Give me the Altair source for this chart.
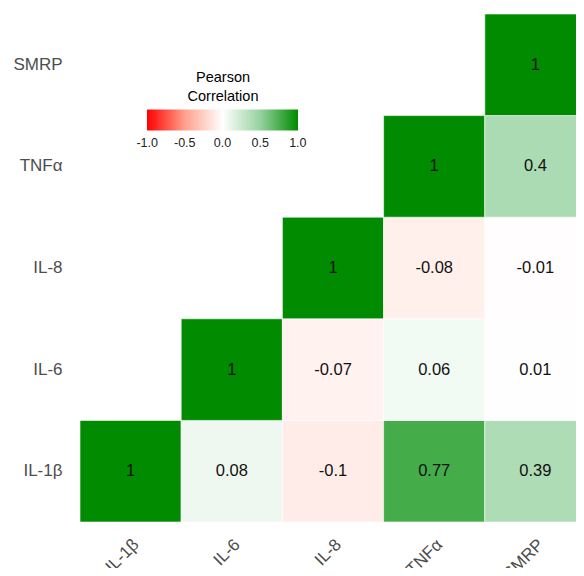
import altair as alt
import pandas as pd

variables = ["IL-1β", "IL-6", "IL-8", "TNFα", "SMRP"]

# upper-triangle cells (column variable, row variable, Pearson r)
cell_cols = ["IL-1β", "IL-6", "IL-8", "TNFα", "SMRP",
             "IL-6", "IL-8", "TNFα", "SMRP",
             "IL-8", "TNFα", "SMRP",
             "TNFα", "SMRP",
             "SMRP"]
cell_rows = ["IL-1β", "IL-1β", "IL-1β", "IL-1β", "IL-1β",
             "IL-6", "IL-6", "IL-6", "IL-6",
             "IL-8", "IL-8", "IL-8",
             "TNFα", "TNFα",
             "SMRP"]
cell_vals = [1, 0.08, -0.1, 0.77, 0.39,
             1, -0.07, 0.06, 0.01,
             1, -0.08, -0.01,
             1, 0.4,
             1]

# legend tick values (ends nudged a hair inwards so their labels stay centred)
legend_values = [-0.998, -0.5, 0.0, 0.5, 0.998]

# colour scale stops
color_domain = [-1, -0.5, 0, 0.5, 1]
color_range = ["#FF0000", "#FFA08B", "#FFFFFF", "#96D2A0", "#008B00"]

df = pd.DataFrame({
    "col": cell_cols,
    "row": cell_rows,
    "r": cell_vals,
    "label": [f"{v:g}" for v in cell_vals],
})

FONT = "Arial, Liberation Sans, sans-serif"

x_enc = alt.X(
    "col:N", sort=variables, title=None,
    scale=alt.Scale(range=[0, 506], paddingInner=0, paddingOuter=0),
    axis=alt.Axis(labelAngle=-45, labelAlign="right", labelBaseline="top",
                  labelPadding=14, labelFontSize=17, labelColor="#4d4d4d",
                  labelFont=FONT, domain=False, ticks=False, grid=False),
)
y_enc = alt.Y(
    "row:N", sort=variables[::-1], title=None,
    scale=alt.Scale(paddingInner=0, paddingOuter=0),
    axis=alt.Axis(labelFontSize=17, labelColor="#4d4d4d", labelFont=FONT,
                  labelPadding=18, domain=False, ticks=False, grid=False),
)

rect = alt.Chart(df).mark_rect(stroke="white", strokeWidth=0.6).encode(
    x=x_enc,
    y=y_enc,
    color=alt.Color(
        "r:Q",
        scale=alt.Scale(domain=color_domain, range=color_range,
                        interpolate="rgb"),
        legend=alt.Legend(
            title=["Pearson", "Correlation"],
            orient="none", legendX=67, legendY=57,
            direction="horizontal",
            gradientLength=151, gradientThickness=21,
            gradientStrokeWidth=0,
            values=legend_values,
            labelExpr="replace(format(datum.value, '.1f'), '\u2212', '-')",
            labelFontSize=12.5, labelColor="#222222",
            labelFont=FONT, labelOffset=6, labelOverlap=False,
            titleFontSize=14.5, titleFontWeight="normal", titleColor="#000000",
            titleFont=FONT, titleAnchor="middle", titleAlign="center",
            titleLineHeight=19, titlePadding=5,
        ),
    ),
)

text = alt.Chart(df).mark_text(fontSize=16.5, color="#111111", font=FONT).encode(
    x=alt.X("col:N", sort=variables),
    y=alt.Y("row:N", sort=variables[::-1]),
    text="label:N",
)

chart = (rect + text).properties(
    width=496, height=508,
    autosize=alt.AutoSizeParams(type="none"),
    padding={"left": 72, "top": 6, "right": 0, "bottom": 46},
    background="white",
).configure_view(stroke=None)

chart.save("out.html", embed_options={"renderer": "svg", "actions": False})
